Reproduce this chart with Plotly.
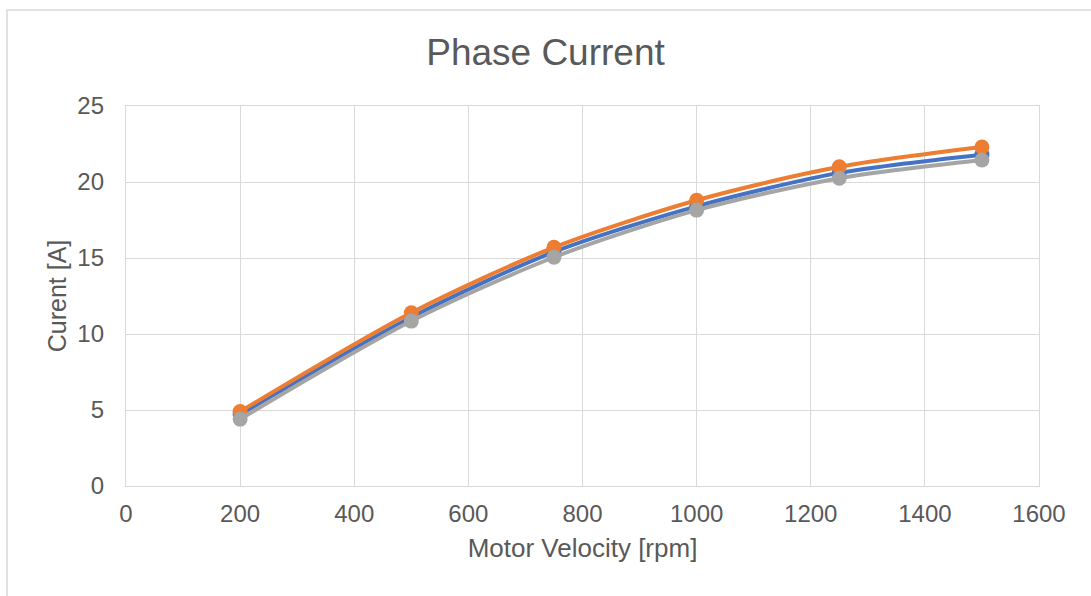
import plotly.graph_objects as go

velocity = [200, 500, 750, 1000, 1250, 1500]
series_blue = [4.7, 11.1, 15.4, 18.4, 20.6, 21.8]
series_orange = [4.9, 11.4, 15.7, 18.8, 21.0, 22.3]
series_gray = [4.4, 10.85, 15.05, 18.15, 20.25, 21.45]

names = ["Series 1", "Series 2", "Series 3"]
colors = ["#4472C4", "#ED7D31", "#A5A5A5"]

fig = go.Figure()
for name, ys, c in zip(names, [series_blue, series_orange, series_gray], colors):
    fig.add_trace(go.Scatter(
        x=velocity, y=ys, name=name, mode="lines+markers",
        line=dict(color=c, width=4, shape="spline", smoothing=0.8),
        marker=dict(color=c, size=15),
        showlegend=False,
    ))

L, R, T, B = 126, 52, 106, 110
W, H = 1091, 596
pw, ph = W - L - R, H - T - B

fig.update_layout(
    width=W, height=H,
    margin=dict(l=L, r=R, t=T, b=B),
    paper_bgcolor="white", plot_bgcolor="white",
    font=dict(family="Liberation Sans, Arial, sans-serif", color="#595959"),
    title=dict(text="Phase Current", x=0.5, xanchor="center", y=1 - 52 / H, yanchor="middle",
               font=dict(size=37, color="#595959")),
    xaxis=dict(range=[0, 1600], dtick=200, tick0=0, showgrid=True, gridcolor="#d9d9d9", gridwidth=1.3,
               showline=True, linecolor="#d9d9d9", linewidth=1.3, mirror=True, zeroline=False,
               ticks="", ticklabelstandoff=6, tickfont=dict(size=24, color="#595959"),
               title=dict(text="Motor Velocity [rpm]", font=dict(size=26, color="#595959"), standoff=12)),
    yaxis=dict(range=[0, 25], dtick=5, tick0=0, showgrid=True, gridcolor="#d9d9d9", gridwidth=1.3,
               showline=True, linecolor="#d9d9d9", linewidth=1.3, mirror=True, zeroline=False,
               ticks="", ticklabelstandoff=16, tickfont=dict(size=24, color="#595959"),
               title=dict(text="Curent [A]", font=dict(size=25, color="#595959"), standoff=3)),
)

fig.add_shape(type="rect", xref="paper", yref="paper",
              x0=(7 - L) / pw, x1=(W + 10 - L) / pw,
              y0=(H - B - (H + 10)) / ph, y1=(H - B - 10) / ph,
              line=dict(color="#d9d9d9", width=1.5), fillcolor="rgba(0,0,0,0)", layer="below")

fig.write_html("out.html")
